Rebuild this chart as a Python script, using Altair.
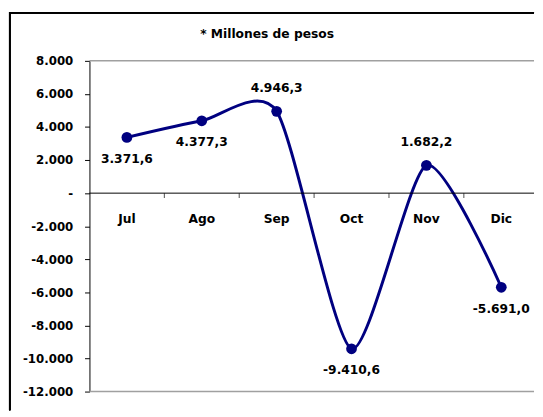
import altair as alt
import pandas as pd

months = ["Jul", "Ago", "Sep", "Oct", "Nov", "Dic"]
values = [3371.6, 4377.3, 4946.3, -9410.6, 1682.2, -5691.0]
y_ticks = [8000, 6000, 4000, 2000, 0, -2000, -4000, -6000, -8000, -10000, -12000]
title_text = "* Millones de pesos"
labels_above = ["Sep", "Nov"]


def es_fmt(v):
    s = f"{v:,.1f}"
    return s.replace(",", "X").replace(".", ",").replace("X", ".")


df = pd.DataFrame({
    "month": months,
    "value": values,
    "pos": [i + 0.5 for i in range(len(months))],
    "label": [es_fmt(v) for v in values],
})
bounds = pd.DataFrame({"pos": [i + 1 for i in range(len(months) - 1)], "value": 0})

W, H = 453, 337
BAND = 76.3
NAVY = "#000080"
FONT = "DejaVu Sans"
FS = 12.5

xs = alt.Scale(domain=[0, W / BAND], nice=False, zero=False)
ys = alt.Scale(domain=[-12000, 8000], nice=False, zero=False)

x_axis = alt.Axis(labels=False, domain=False, grid=False, ticks=False, title=None)
y_axis = alt.Axis(values=y_ticks, grid=False, title=None, domainColor="black",
                  domainWidth=1, tickColor="black", tickSize=5, tickWidth=1,
                  labelPadding=12, labelFont=FONT, labelFontWeight="bold",
                  labelFontSize=12, labelColor="black", labelOverlap=False,
                  labelExpr="datum.value == 0 ? '-' : (datum.value < 0 ? '-' : '') + replace(format(abs(datum.value), ',.0f'), ',', '.')")


def X(field):
    return alt.X(field, scale=xs, axis=x_axis, title=None)


def Y(field):
    return alt.Y(field, scale=ys, axis=y_axis, title=None)


base = alt.Chart(df)

line = base.mark_line(color=NAVY, strokeWidth=3, interpolate="cardinal", tension=0.3).encode(
    x=X("pos:Q"), y=Y("value:Q"),
)

points = base.mark_circle(color=NAVY, opacity=1, size=120).encode(
    x=X("pos:Q"), y=Y("value:Q"),
)

zero = alt.Chart(pd.DataFrame({"value": [0]})).mark_rule(color="black", strokeWidth=1).encode(
    y=Y("value:Q")
)

xticks = alt.Chart(bounds).mark_tick(color="black", orient="vertical", size=5,
                                     thickness=1, yOffset=2.5).encode(
    x=X("pos:Q"), y=Y("value:Q")
)

gray_lines = alt.Chart(pd.DataFrame({"value": [8000, -12000]})).mark_rule(
    color="#a0a0a0", strokeWidth=1.5).encode(y=Y("value:Q"))

frame_left = alt.Chart(df).mark_rule(color="black", strokeWidth=1.5).encode(
    x=alt.value(-81.25), y=alt.value(-49), y2=alt.value(H + 19))
frame_top = alt.Chart(df).mark_rule(color="black", strokeWidth=1.5).encode(
    x=alt.value(-82), x2=alt.value(W), y=alt.value(-49))

month_labels = base.transform_calculate(zero_v="0").mark_text(
    font=FONT, fontWeight="bold", fontSize=FS, color="black", dy=26).encode(
    x=X("pos:Q"), y=Y("zero_v:Q"), text="month:N",
)

above = base.transform_filter(
    alt.FieldOneOfPredicate(field="month", oneOf=labels_above)
).transform_calculate(
    dx="datum.month == 'Sep' ? 16 : 3"
).mark_text(font=FONT, fontWeight="bold", fontSize=FS, color="black", dy=-24).encode(
    x=X("pos:Q"),
    xOffset=alt.XOffset("dx:Q", scale=None),
    y=Y("value:Q"),
    text="label:N",
)

below = base.transform_filter(
    ~alt.FieldOneOfPredicate(field="month", oneOf=labels_above)
).transform_calculate(
    dx="datum.month == 'Jul' ? 5 : (datum.month == 'Ago' ? 7 : (datum.month == 'Dic' ? -5 : 0))"
).mark_text(font=FONT, fontWeight="bold", fontSize=FS, color="black", dy=22).encode(
    x=X("pos:Q"),
    xOffset=alt.XOffset("dx:Q", scale=None),
    y=Y("value:Q"),
    text="label:N",
)

title = alt.Chart(pd.DataFrame({"t": [title_text]})).mark_text(
    font=FONT, fontWeight="bold", fontSize=12.5, color="black").encode(
    x=alt.value(181), y=alt.value(-27), text="t:N")

chart = alt.layer(
    line, gray_lines, frame_left, frame_top, zero, xticks, points,
    month_labels, above, below, title
).properties(
    width=W, height=H, padding=0, background="white"
).configure_view(stroke=None)

chart.save("out.html", embed_options={"renderer": "svg", "actions": False})
